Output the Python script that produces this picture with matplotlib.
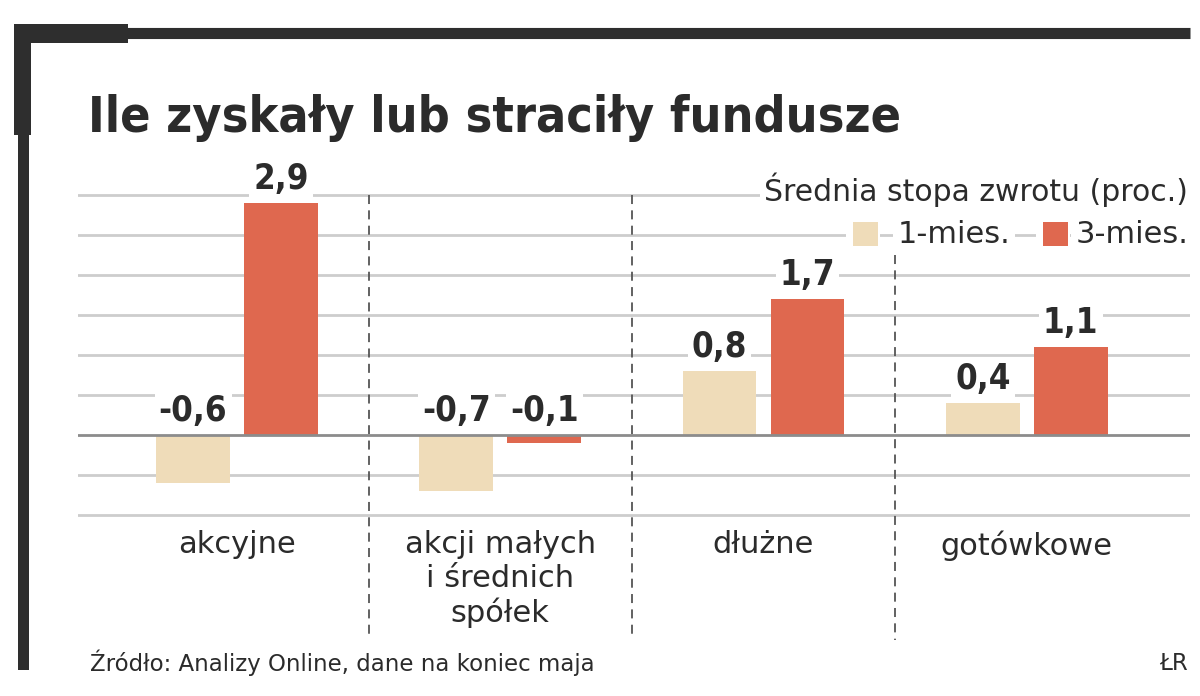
import numpy as np
import matplotlib
matplotlib.use("Agg")
import matplotlib.pyplot as plt
from matplotlib.patches import Rectangle
from matplotlib.lines import Line2D

# data
categories = ["akcyjne", "akcji małych\ni średnich\nspółek", "dłużne", "gotówkowe"]
one_month = [-0.6, -0.7, 0.8, 0.4]
three_month = [2.9, -0.1, 1.7, 1.1]
labels_1m = ["-0,6", "-0,7", "0,8", "0,4"]
labels_3m = ["2,9", "-0,1", "1,7", "1,1"]
grid_levels = [-1.0, -0.5, 0.5, 1.0, 1.5, 2.0, 2.5, 3.0]

beige = "#efdcb9"
red = "#df684f"
ink = "#2b2b2b"

plt.rcParams["font.family"] = ["DejaVu Sans"]

fig = plt.figure(figsize=(12, 6.96), dpi=100)
W, H = 1200, 696

# axes placed in pixels: x from 78 to 1190, y from 191 to 643 (top-down)
ax = fig.add_axes([78 / W, (H - 643) / H, 1112 / W, 452 / H])
ax.set_xlim(-0.604, 3.62)
ax.set_ylim(-2.6, 3.05)
ax.axis("off")

x = np.arange(len(categories))
bw = 0.28
off = 0.167

# grid
for g in grid_levels:
    ax.axhline(g, color="#cdcdcd", lw=2, zorder=0)
ax.axhline(0, color="#8c8c8c", lw=2, zorder=3)

# separators
sep_tops = [3.0, 3.0, 2.25]
for i, top in enumerate(sep_tops):
    ax.plot([i + 0.5, i + 0.5], [top, -2.56], color="#555555", lw=1.3,
            ls=(0, (5, 3.5)), zorder=1)

ax.bar(x - off, one_month, bw, color=beige, zorder=2)
ax.bar(x + off, three_month, bw, color=red, zorder=2)

def value_label(xp, v, s):
    ax.annotate(s, (xp, max(v, 0)), xytext=(0, 5), textcoords="offset points",
                ha="center", va="bottom", fontsize=25, fontweight="heavy",
                fontstretch="condensed", color=ink, zorder=5,
                bbox=dict(boxstyle="square,pad=0.12", fc="white", ec="none"))

for i in range(len(categories)):
    value_label(x[i] - off, one_month[i], labels_1m[i])
    value_label(x[i] + off, three_month[i], labels_3m[i])

for i, c in enumerate(categories):
    ax.text(x[i], -1.19, c, ha="center", va="top", fontsize=22, color=ink,
            linespacing=1.2)

# legend
fig.text(1188 / W, 1 - 190 / H, "Średnia stopa zwrotu (proc.)", ha="right",
         va="center", fontsize=21.5, color=ink,
         bbox=dict(boxstyle="square,pad=0.15", fc="white", ec="none"))
fig.text(1188 / W, 1 - 234 / H, "3-mies.", ha="right", va="center",
         fontsize=22, color=ink,
         bbox=dict(boxstyle="square,pad=0.15", fc="white", ec="none"))
fig.text(1010 / W, 1 - 234 / H, "1-mies.", ha="right", va="center",
         fontsize=22, color=ink,
         bbox=dict(boxstyle="square,pad=0.15", fc="white", ec="none"))
fig.add_artist(Rectangle((1036 / W, 1 - 247 / H), 34 / W, 26 / H,
                         fc="white", ec="none", transform=fig.transFigure))
fig.add_artist(Rectangle((1043 / W, 1 - 246 / H), 25 / W, 24 / H,
                         fc=red, ec="none", transform=fig.transFigure))
fig.add_artist(Rectangle((846 / W, 1 - 247 / H), 34 / W, 26 / H,
                         fc="white", ec="none", transform=fig.transFigure))
fig.add_artist(Rectangle((853 / W, 1 - 246 / H), 25 / W, 24 / H,
                         fc=beige, ec="none", transform=fig.transFigure))

# title
fig.text(88 / W, 1 - 118 / H, "Ile zyskały lub straciły fundusze",
         ha="left", va="center", fontsize=36, fontweight="heavy",
         fontstretch="condensed", color=ink)

# source
fig.text(90 / W, 1 - 663 / H, "Źródło: Analizy Online, dane na koniec maja",
         ha="left", va="center", fontsize=16.5, color=ink)
fig.text(1188 / W, 1 - 663 / H, "ŁR", ha="right", va="center",
         fontsize=16.5, color=ink)

# frame
frame = "#2e2e2e"
fig.add_artist(Line2D([110 / W, 1190 / W], [1 - 33 / H, 1 - 33 / H],
                      color=frame, lw=8, solid_capstyle="butt"))
fig.add_artist(Rectangle((14 / W, 1 - 43 / H), 114 / W, 19 / H, fc=frame,
                         ec="none", transform=fig.transFigure))
fig.add_artist(Rectangle((14 / W, 1 - 135 / H), 17 / W, 100 / H, fc=frame,
                         ec="none", transform=fig.transFigure))
fig.add_artist(Rectangle((18 / W, 1 - 670 / H), 11 / W, 540 / H, fc=frame,
                         ec="none", transform=fig.transFigure))

fig.savefig("out.png", dpi=100, facecolor="white")
